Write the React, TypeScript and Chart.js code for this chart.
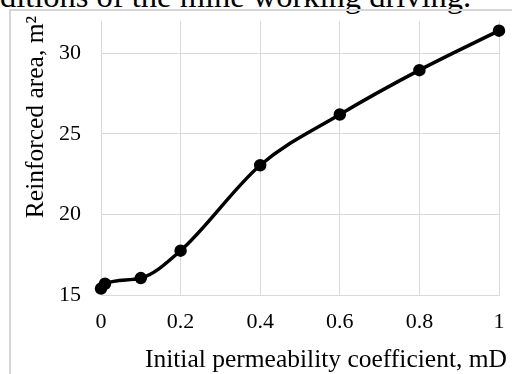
import React, { useEffect, useRef } from "react";
import { Chart, registerables } from "chart.js";

Chart.register(...registerables);

const permeability = [0, 0.01, 0.1, 0.2, 0.4, 0.6, 0.8, 1];
const reinforcedArea = [15.4, 15.7, 16.05, 17.75, 23.05, 26.2, 28.95, 31.4];
const xTicks = [0, 0.2, 0.4, 0.6, 0.8, 1];
const yTicks = [15, 20, 25, 30];
const xTitle = "Initial permeability coefficient, mD";
const yTitle = "Reinforced area, m²";
const captionText = "ditions of the mine working driving.";

const FONT_FAMILY = '"Liberation Serif", "Times New Roman", serif';

const titlePlugin = {
  id: "axisTitles",
  afterDraw(chart: any) {
    const { ctx, chartArea } = chart;
    ctx.save();
    ctx.fillStyle = "#000";
    ctx.font = `25.5px ${FONT_FAMILY}`;
    ctx.textBaseline = "alphabetic";
    ctx.textAlign = "right";
    ctx.fillText(xTitle, chartArea.right + 8, chartArea.bottom + 72);
    ctx.translate(43, chartArea.top + 96);
    ctx.rotate(-Math.PI / 2);
    ctx.textAlign = "center";
    ctx.fillText(yTitle, 0, 0);
    ctx.restore();
  },
};

export default function App() {
  const ref = useRef<HTMLCanvasElement | null>(null);
  useEffect(() => {
    if (!ref.current) return;
    const tickFont = { family: FONT_FAMILY, size: 22 };
    const chart = new Chart(ref.current, {
      type: "line",
      data: {
        datasets: [
          {
            data: permeability.map((x, i) => ({ x, y: reinforcedArea[i] })),
            borderColor: "#000",
            borderWidth: 3.5,
            pointRadius: 4.5,
            pointBackgroundColor: "#000",
            pointBorderColor: "#000",
            cubicInterpolationMode: "monotone",
            clip: false,
          },
        ],
      },
      options: {
        responsive: false,
        animation: false,
        layout: { padding: { left: 0, right: 13, top: 21, bottom: 0 } },
        plugins: { legend: { display: false }, tooltip: { enabled: false } },
        scales: {
          x: {
            type: "linear",
            min: 0,
            max: 1,
            afterBuildTicks: (s: any) => {
              s.ticks = xTicks.map((v) => ({ value: v }));
            },
            afterFit: (s: any) => {
              s.height = 79;
              s.paddingLeft = 0;
              s.paddingRight = 0;
            },
            ticks: {
              font: tickFont,
              color: "#000",
              padding: 14,
              maxRotation: 0,
              callback: (v: any) => String(v),
            },
            grid: { color: "#d9d9d9", drawTicks: false },
            border: { color: "#d9d9d9" },
          },
          y: {
            min: 15,
            max: 32,
            afterBuildTicks: (s: any) => {
              s.ticks = yTicks.map((v) => ({ value: v }));
            },
            afterFit: (s: any) => {
              s.width = 101;
              s.paddingTop = 0;
              s.paddingBottom = 0;
            },
            ticks: {
              font: tickFont,
              color: "#000",
              padding: 20,
              callback: (v: any) => String(v),
            },
            grid: { color: "#d9d9d9", drawTicks: false },
            border: { color: "#d9d9d9" },
          },
        },
      },
      plugins: [titlePlugin],
    } as any);
    return () => chart.destroy();
  }, []);

  return (
    <div
      style={{
        position: "fixed",
        left: 0,
        top: 0,
        width: 512,
        height: 374,
        overflow: "hidden",
        background: "#fff",
      }}
    >
      <div
        style={{
          position: "absolute",
          left: 0,
          top: -20,
          fontFamily: FONT_FAMILY,
          fontSize: 32.5,
          lineHeight: "32.5px",
          whiteSpace: "nowrap",
          color: "#000",
        }}
      >
        {captionText}
      </div>
      <div
        style={{
          position: "absolute",
          left: 9,
          top: 9,
          width: 700,
          height: 600,
          borderLeft: "2px solid #d6d6d6",
          borderTop: "2px solid #d6d6d6",
        }}
      />
      <canvas
        ref={ref}
        width={512}
        height={374}
        style={{ position: "absolute", left: 0, top: 0 }}
      />
    </div>
  );
}
